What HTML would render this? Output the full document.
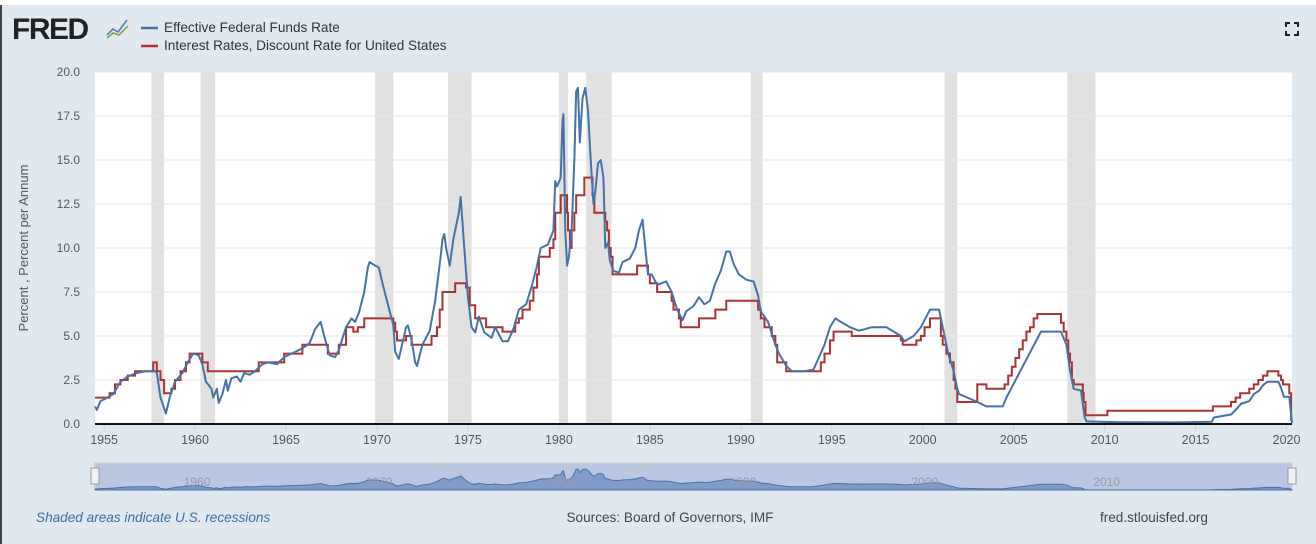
<!DOCTYPE html>
<html><head><meta charset="utf-8"><style>
body{margin:0;width:1316px;height:544px;overflow:hidden;background:#fff;font-family:"Liberation Sans",sans-serif}
#wrap{position:absolute;left:0;top:5px;width:1316px;height:539px;background:#e1e9f0;border-left:2px solid #444;box-sizing:border-box}
</style></head><body>
<div id="wrap"></div>
<svg id="c" width="1316" height="544" style="position:absolute;left:0;top:0">
<text x="12" y="39" font-size="30" font-weight="bold" fill="#222" letter-spacing="-1.5">FRED</text>
<g><rect x="105" y="17" width="25" height="22" fill="#e4e8ec" rx="2"/><polyline points="107,35 113,29 118,32 127,20" fill="none" stroke="#4a78b5" stroke-width="1.5"/><polyline points="107,38 113,33 119,35 128,26" fill="none" stroke="#6aa84f" stroke-width="1.5"/></g>
<line x1="141" y1="28" x2="158" y2="28" stroke="#4572a7" stroke-width="2.5"/>
<text x="164" y="32" font-size="13.6" fill="#333">Effective Federal Funds Rate</text>
<line x1="141" y1="46" x2="158" y2="46" stroke="#aa3333" stroke-width="2.5"/>
<text x="164" y="50" font-size="13.6" fill="#333">Interest Rates, Discount Rate for United States</text>
<g stroke="#222" stroke-width="2" fill="none"><path d="M1286 27v-4h4M1294 23h4v4M1298 31v4h-4M1290 35h-4v-4"/></g>
<rect x="95" y="72" width="1197" height="352" fill="#fff"/>
<g id="rec"></g><g id="grid"></g><g id="series"></g><g id="axes"></g><g id="nav"></g>
<text x="28" y="248" font-size="13" fill="#555" transform="rotate(-90 28 248)" text-anchor="middle">Percent , Percent per Annum</text>
<text x="36" y="522" font-size="13.6" fill="#3e6aa5" font-style="italic">Shaded areas indicate U.S. recessions</text>
<text x="670" y="522" font-size="13.6" fill="#444" text-anchor="middle">Sources: Board of Governors, IMF</text>
<text x="1208" y="522" font-size="13.6" fill="#444" text-anchor="end">fred.stlouisfed.org</text>
</svg>
<script>
const recStart=[1957.6,1960.3,1969.9,1973.9,1980.0,1981.5,1990.55,2001.2,2007.95];
const recEnd=[1958.3,1961.1,1970.9,1975.2,1980.5,1982.9,1991.2,2001.9,2009.5];
const yTicks=[0,2.5,5,7.5,10,12.5,15,17.5,20];
const xTicks=[1955,1960,1965,1970,1975,1980,1985,1990,1995,2000,2005,2010,2015,2020];
const ffYears=[1954.5,1954.6,1954.8,1955,1955.5,1955.9,1956.3,1956.8,1957.3,1957.8,1957.9,1958.1,1958.3,1958.4,1958.6,1958.9,1959.3,1959.6,1959.9,1960.2,1960.4,1960.6,1960.9,1961.0,1961.2,1961.3,1961.5,1961.7,1961.8,1962.0,1962.3,1962.5,1962.7,1963.0,1963.3,1963.7,1964.0,1964.5,1964.9,1965.5,1965.9,1966.3,1966.6,1966.9,1967.1,1967.4,1967.7,1967.9,1968.3,1968.6,1968.8,1969.0,1969.3,1969.5,1969.6,1969.9,1970.1,1970.3,1970.6,1970.9,1971.0,1971.2,1971.4,1971.6,1971.7,1971.9,1972.1,1972.2,1972.5,1972.9,1973.2,1973.5,1973.6,1973.7,1973.8,1974.0,1974.2,1974.5,1974.6,1974.8,1975.0,1975.2,1975.4,1975.6,1975.9,1976.3,1976.5,1976.9,1977.2,1977.5,1977.8,1978.2,1978.5,1978.8,1979.0,1979.4,1979.7,1979.8,1979.9,1980.1,1980.2,1980.25,1980.35,1980.45,1980.55,1980.7,1980.85,1980.95,1981.05,1981.15,1981.3,1981.45,1981.6,1981.75,1981.9,1982.0,1982.15,1982.3,1982.45,1982.55,1982.7,1982.8,1983.0,1983.3,1983.5,1983.9,1984.2,1984.4,1984.6,1984.75,1984.9,1985.1,1985.4,1985.9,1986.2,1986.5,1986.8,1987.0,1987.4,1987.7,1988.0,1988.3,1988.6,1988.9,1989.2,1989.4,1989.6,1989.9,1990.3,1990.7,1990.95,1991.1,1991.5,1991.9,1992.1,1992.5,1992.8,1993.5,1994.0,1994.3,1994.6,1994.9,1995.2,1995.5,1996.0,1996.5,1997.2,1998.0,1998.8,1999.0,1999.5,1999.9,2000.4,2000.9,2001.1,2001.4,2001.7,2001.9,2002.0,2002.9,2003.5,2004.4,2004.6,2006.5,2007.6,2007.9,2008.1,2008.3,2008.7,2008.9,2009.0,2010.0,2011,2014,2015.9,2016.0,2016.95,2017.2,2017.5,2017.95,2018.2,2018.5,2018.7,2018.95,2019.55,2019.7,2019.85,2020.15,2020.3];
const ffValues=[1.0,0.8,1.3,1.4,1.7,2.4,2.7,2.9,3.0,3.0,2.9,1.5,0.9,0.6,1.5,2.4,2.9,3.5,4.0,3.9,3.4,2.4,2.0,1.5,2.0,1.2,1.7,2.5,1.9,2.6,2.7,2.4,2.9,2.8,3.0,3.4,3.5,3.4,3.8,4.1,4.3,4.6,5.4,5.8,5.0,3.9,3.8,4.2,5.5,6.0,5.8,6.3,7.5,8.9,9.2,9.0,8.9,8.0,6.8,5.6,4.1,3.7,4.6,5.5,5.6,4.8,3.5,3.3,4.5,5.3,7.0,9.5,10.5,10.8,10.0,9.0,10.5,12.0,12.9,10.0,7.2,5.5,5.2,6.1,5.2,4.9,5.5,4.7,4.7,5.4,6.5,6.8,7.8,9.0,10.0,10.2,11.0,13.8,13.5,14.0,17.2,17.6,11.0,9.0,9.5,11.0,15.0,18.9,19.1,16.0,18.5,19.1,17.8,15.0,12.5,13.2,14.8,15.0,14.0,10.0,10.3,9.3,8.7,8.6,9.2,9.4,10.0,11.0,11.6,10.0,8.5,8.5,7.9,8.1,7.5,6.5,5.9,6.4,6.7,7.2,6.8,7.0,8.0,8.7,9.8,9.8,9.1,8.5,8.2,8.1,7.3,6.4,5.8,4.5,4.0,3.3,3.0,3.0,3.1,3.8,4.5,5.5,6.0,5.8,5.5,5.3,5.5,5.5,5.0,4.7,5.0,5.5,6.5,6.5,5.5,4.0,3.0,2.0,1.7,1.3,1.0,1.0,1.5,5.25,5.25,4.5,3.0,2.0,1.9,0.4,0.15,0.12,0.1,0.09,0.13,0.37,0.54,0.8,1.15,1.3,1.7,1.9,2.2,2.4,2.4,2.05,1.55,1.55,0.05];
const drYears=[1954.5,1955.3,1955.6,1955.9,1956.3,1956.7,1957.7,1957.9,1958.1,1958.3,1958.7,1958.9,1959.2,1959.5,1959.7,1960.4,1960.7,1963.5,1964.9,1965.9,1967.3,1967.9,1968.3,1968.7,1968.95,1969.3,1970.9,1971.0,1971.1,1971.6,1971.9,1973.0,1973.3,1973.45,1973.6,1974.3,1974.9,1975.1,1975.4,1976.0,1976.9,1977.6,1977.8,1978.0,1978.4,1978.6,1978.8,1978.9,1979.5,1979.7,1979.8,1980.1,1980.45,1980.5,1980.6,1980.7,1980.85,1980.95,1981.4,1981.85,1981.95,1982.55,1982.65,1982.75,1982.85,1982.95,1984.3,1984.9,1985.0,1985.4,1986.2,1986.3,1986.6,1986.7,1987.7,1988.6,1989.2,1990.95,1991.1,1991.3,1991.7,1991.9,1992.0,1992.5,1994.4,1994.6,1994.9,1995.1,1996.1,1998.8,1998.9,1999.65,1999.9,2000.1,2000.4,2001.0,2001.1,2001.3,2001.5,2001.7,2001.8,2001.9,2003.0,2003.5,2004.5,2004.7,2004.9,2005.1,2005.3,2005.5,2005.7,2005.9,2006.1,2006.3,2006.5,2007.6,2007.75,2007.9,2008.0,2008.1,2008.2,2008.3,2008.8,2008.85,2008.95,2010.15,2015.95,2016.95,2017.2,2017.45,2017.95,2018.2,2018.45,2018.7,2018.95,2019.55,2019.7,2019.8,2020.15,2020.25];
const drValues=[1.5,1.75,2.25,2.5,2.75,3.0,3.5,3.0,2.5,1.75,2.0,2.5,3.0,3.5,4.0,3.5,3.0,3.5,4.0,4.5,4.0,4.5,5.5,5.25,5.5,6.0,5.75,5.25,4.75,5.0,4.5,5.0,5.5,6.5,7.5,8.0,7.75,6.75,6.0,5.5,5.25,5.75,6.0,6.5,7.0,7.75,8.5,9.5,10.0,10.5,12.0,13.0,12.0,11.0,10.0,11.0,12.0,13.0,14.0,13.0,12.0,11.5,11.0,10.0,9.5,8.5,9.0,8.5,8.0,7.5,7.0,6.5,6.0,5.5,6.0,6.5,7.0,6.5,6.0,5.5,5.0,4.5,3.5,3.0,3.5,4.0,4.75,5.25,5.0,4.75,4.5,4.75,5.0,5.5,6.0,5.0,4.5,4.0,3.5,2.5,2.0,1.25,2.25,2.0,2.25,2.75,3.25,3.75,4.25,4.75,5.25,5.5,6.0,6.25,6.25,5.75,5.25,4.75,4.0,3.5,2.5,2.25,1.75,1.25,0.5,0.75,1.0,1.25,1.5,1.75,2.0,2.25,2.5,2.75,3.0,2.75,2.5,2.25,1.75,0.25];
const navLabels=[1960,1970,1980,1990,2000,2010];
const NS='http://www.w3.org/2000/svg';
const X0=95,X1=1292,Y0=424,Y1=72,T0=1954.5,T1=2020.3;
function xs(t){return X0+(t-T0)/(T1-T0)*(X1-X0);}
function ys(v){return Y0-(v/20)*(Y0-Y1);}
function mk(p,tag,a){const e=document.createElementNS(NS,tag);for(const k in a)e.setAttribute(k,a[k]);document.getElementById(p).appendChild(e);return e;}
recStart.forEach((s,i)=>{const r=mk('rec','rect',{x:xs(s),y:Y1,width:xs(recEnd[i])-xs(s),height:Y0-Y1,fill:'#e1e1e1'});

});
yTicks.forEach(v=>{if(v>0){const l=mk('grid','line',{x1:X0,x2:X1,y1:ys(v),y2:ys(v),stroke:'#e6e6e6'});

}
const t=mk('axes','text',{x:80,y:ys(v)+4,'text-anchor':'end','font-size':12,fill:'#555'});t.textContent=v.toFixed(1);

});
xTicks.forEach(y=>{mk('axes','line',{x1:xs(y),x2:xs(y),y1:Y0,y2:Y0+8,stroke:'#ccd6eb'});
const t=mk('axes','text',{x:xs(y),y:Y0+20,'text-anchor':'middle','font-size':12.5,fill:'#555'});t.textContent=y;

});
const base=mk('axes','line',{x1:X0,x2:X1,y1:Y0,y2:Y0,stroke:'#111','stroke-width':2});


let d='M'+xs(drYears[0])+' '+ys(drValues[0]);
for(let i=1;i<drYears.length;i++){d+=' H'+xs(drYears[i])+' V'+ys(drValues[i]);}
d+=' H'+xs(2020.3);
const dr=mk('series','path',{d:d,fill:'none',stroke:'#aa3333','stroke-width':2});


const ff=mk('series','polyline',{points:ffYears.map((t,i)=>xs(t)+','+ys(ffValues[i])).join(' '),fill:'none',stroke:'#4572a7','stroke-width':2,'stroke-linejoin':'round'});


const NY0=490,NY1=463;
const nb=mk('nav','rect',{x:X0,y:NY1,width:X1-X0,height:NY0-NY1,fill:'#b9c8e0',stroke:'#ccc'});


function ny(v){return NY0-v/20*22;}
const na=mk('nav','polygon',{points:X0+','+NY0+' '+ffYears.map((t,i)=>xs(t)+','+ny(ffValues[i])).join(' ')+' '+xs(2020.3)+','+NY0,fill:'#7f9cc8',stroke:'#4572a7','stroke-width':1});


navLabels.forEach(y=>{const t=mk('nav','text',{x:xs(y)+2,y:486,'text-anchor':'middle','font-size':12,fill:'#99a'});t.textContent=y;

});
[X0,X1].forEach(x=>{const h=mk('nav','rect',{x:x-4,y:468,width:8,height:16,fill:'#f2f2f2',stroke:'#999'});

});
</script>
</body></html>
